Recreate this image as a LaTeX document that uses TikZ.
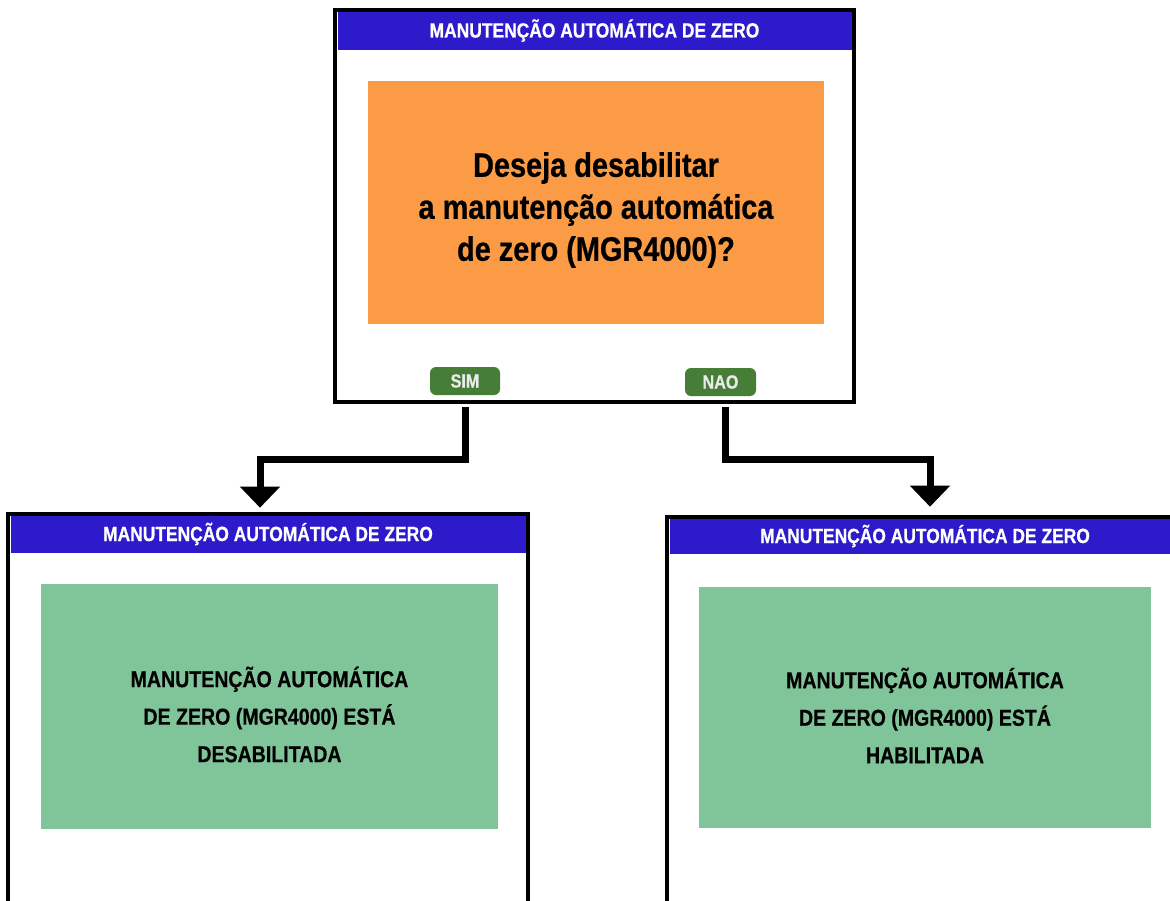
\documentclass[tikz,border=0pt]{standalone}
\usepackage{fontspec}
\newfontfamily\cond{Liberation Sans}[FakeStretch=0.85,FakeBold=0.6]
\usetikzlibrary{arrows.meta,calc}
\definecolor{hdrblue}{RGB}{45,26,203}
\definecolor{qorange}{RGB}{251,155,70}
\definecolor{okgreen}{RGB}{128,196,154}
\definecolor{btngreen}{RGB}{71,126,55}
\tikzset{
  screen/.style={draw=black, line width=2.6pt, fill=white, inner sep=0pt},
  hdr/.style={fill=hdrblue, inner sep=0pt, text=white, font=\cond\bfseries\fontsize{20.5}{24}\selectfont},
  qbox/.style={fill=qorange, inner sep=0pt},
  msgbox/.style={fill=okgreen, inner sep=0pt},
  qtext/.style={align=center, font=\cond\bfseries\fontsize{34}{42}\selectfont, inner sep=0pt},
  msgtext/.style={align=center, font=\cond\bfseries\fontsize{23}{37.5}\selectfont, inner sep=0pt},
  btn/.style={fill=btngreen, rounded corners=6pt, minimum height=28pt, inner sep=0pt, text=white!92!black, font=\cond\bfseries\fontsize{19}{21}\selectfont},
  conn/.style={line width=7pt, line join=miter, -{Triangle[width=39pt,length=21pt]}}
}
\begin{document}
\begin{tikzpicture}[x=1pt,y=-1pt]
\useasboundingbox (0,0) rectangle (1170,900);
\clip (0,0) rectangle (1170,900);
\fill[white] (0,0) rectangle (1170,900);
% top screen
\node[screen, minimum width=517pt, minimum height=390pt] (top) at (594.5,206) {};
\node[hdr, minimum width=514pt, minimum height=38pt] (tophdr) at (594.5,30.5) {MANUTENÇÃO AUTOMÁTICA DE ZERO};
\draw[line width=2.6pt] (top.south west) rectangle (top.north east);
\node[qbox, minimum width=456pt, minimum height=243pt] (q) at (596,202.5) {};
\node[qtext] (qt) at (596,210) {Deseja desabilitar\\a manutenção automática\\de zero (MGR4000)?};
\node[btn, minimum width=70pt] (sim) at (465,381) {SIM};
\node[btn, minimum width=71pt] (nao) at (720.5,382) {NAO};
% left screen
\node[screen, minimum width=518pt, minimum height=500pt] (lbox) at (268,765) {};
\node[hdr, minimum width=515pt, minimum height=37pt] (lhdr) at (268,534) {MANUTENÇÃO AUTOMÁTICA DE ZERO};
\draw[line width=2.6pt] (lbox.south west) rectangle (lbox.north east);
\node[msgbox, minimum width=457pt, minimum height=245pt] (lmsg) at (269.5,706.5) {};
\node[msgtext] (lmt) at (269.5,714.5) {MANUTENÇÃO AUTOMÁTICA\\DE ZERO (MGR4000) ESTÁ\\DESABILITADA};
% right screen
\node[screen, minimum width=514pt, minimum height=500pt] (rbox) at (925,768) {};
\node[hdr, minimum width=511pt, minimum height=35pt] (rhdr) at (925,536) {MANUTENÇÃO AUTOMÁTICA DE ZERO};
\draw[line width=2.6pt] (rbox.south west) rectangle (rbox.north east);
\node[msgbox, minimum width=452pt, minimum height=241pt] (rmsg) at (925,707.5) {};
\node[msgtext] (rmt) at (925,715.5) {MANUTENÇÃO AUTOMÁTICA\\DE ZERO (MGR4000) ESTÁ\\HABILITADA};
% connectors
\draw[conn] ($(sim.south)+(0,12)$) -- ++(0,52) -| ($(lbox.north)+(-8,-6)$);
\draw[conn] ($(nao.south)+(4.5,11)$) -- ++(0,52) -| ($(rbox.north)+(5,-10)$);
\end{tikzpicture}
\end{document}
